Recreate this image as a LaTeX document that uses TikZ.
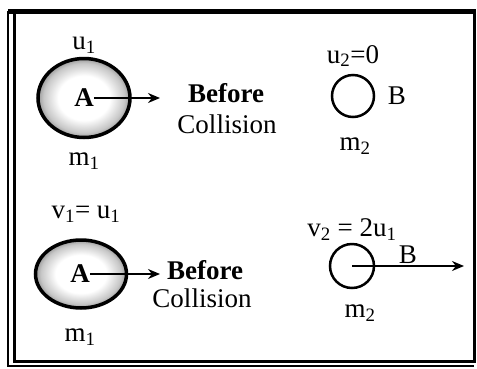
\documentclass[tikz,border=0pt]{standalone}
\usepackage{fontspec}
\setmainfont{Liberation Serif}
\usetikzlibrary{shapes.geometric,arrows.meta}
\pgfdeclareradialshading{rim}{\pgfpoint{0bp}{0bp}}{color(0bp)=(white); color(14bp)=(white); color(22bp)=(black!22); color(25bp)=(black!40); color(50bp)=(black!40)}

\begin{document}
\begin{tikzpicture}[x=1pt, y=-1pt, >={Stealth[length=12pt,width=10pt]},
    txt/.style={font=\fontsize{27}{31}\selectfont, inner sep=0pt},
    bigball/.style={ellipse, draw, line width=3.5pt, inner sep=0pt, shading=rim},
    smallball/.style={circle, draw, line width=2.5pt, inner sep=0pt, minimum size=42pt},
    velo/.style={->, line width=1.6pt}]
    \useasboundingbox (0,0) rectangle (477,368);

    % Cornice
    \draw[line width=3pt] (14,12) rectangle (474,361);
    \draw[line width=5pt] (8,11) -- (476,11);
    \draw[line width=1.2pt] (8,11) -- (8,366) -- (474,366);

    % Prima dell'urto
    \node[bigball, minimum width=92pt, minimum height=79pt] (ballA1) at (84,98) {};
    \node[txt] (labA1) at (84,98) {\textbf{A}};
    \node[txt] (u1) at (84,45) {u\textsubscript{1}};
    \node[txt] (m1) at (84,161) {m\textsubscript{1}};
    \coordinate (tipA1) at (160,98); % punta della freccia
    \draw[velo] (labA1.east) -- (tipA1);
    \node[txt] (before1) at (226,93) {\textbf{Before}};
    \node[txt] (coll1) at (227,124) {Collision};

    \node[smallball] (ballB1) at (353,96) {};
    \node[txt] (labB1) at (397,96) {B};
    \node[txt] (u2) at (353,56) {u\textsubscript{2}=0};
    \node[txt] (m2) at (355,146) {m\textsubscript{2}};

    % Dopo l'urto
    \node[bigball, minimum width=91pt, minimum height=68pt] (ballA2) at (81,274) {};
    \node[txt] (labA2) at (80,274) {\textbf{A}};
    \node[txt] (v1) at (86,214) {v\textsubscript{1}= u\textsubscript{1}};
    \node[txt] (m1b) at (80,337) {m\textsubscript{1}};
    \coordinate (tipA2) at (160,274); % punta della freccia
    \draw[velo] (labA2.east) -- (tipA2);
    \node[txt] (before2) at (205,270) {\textbf{Before}};
    \node[txt] (coll2) at (202,298) {Collision};

    \node[smallball, minimum size=44pt] (ballB2) at (352,266) {};
    \node[txt] (v2) at (352,230) {v\textsubscript{2} = 2u\textsubscript{1}};
    \node[txt] (m2b) at (360,313) {m\textsubscript{2}};
    \coordinate (tipB2) at (464,266); % punta della freccia
    \draw[velo] (ballB2.center) -- (tipB2) node[txt, midway, above=2pt] (labB2) {B};
\end{tikzpicture}
\end{document}
